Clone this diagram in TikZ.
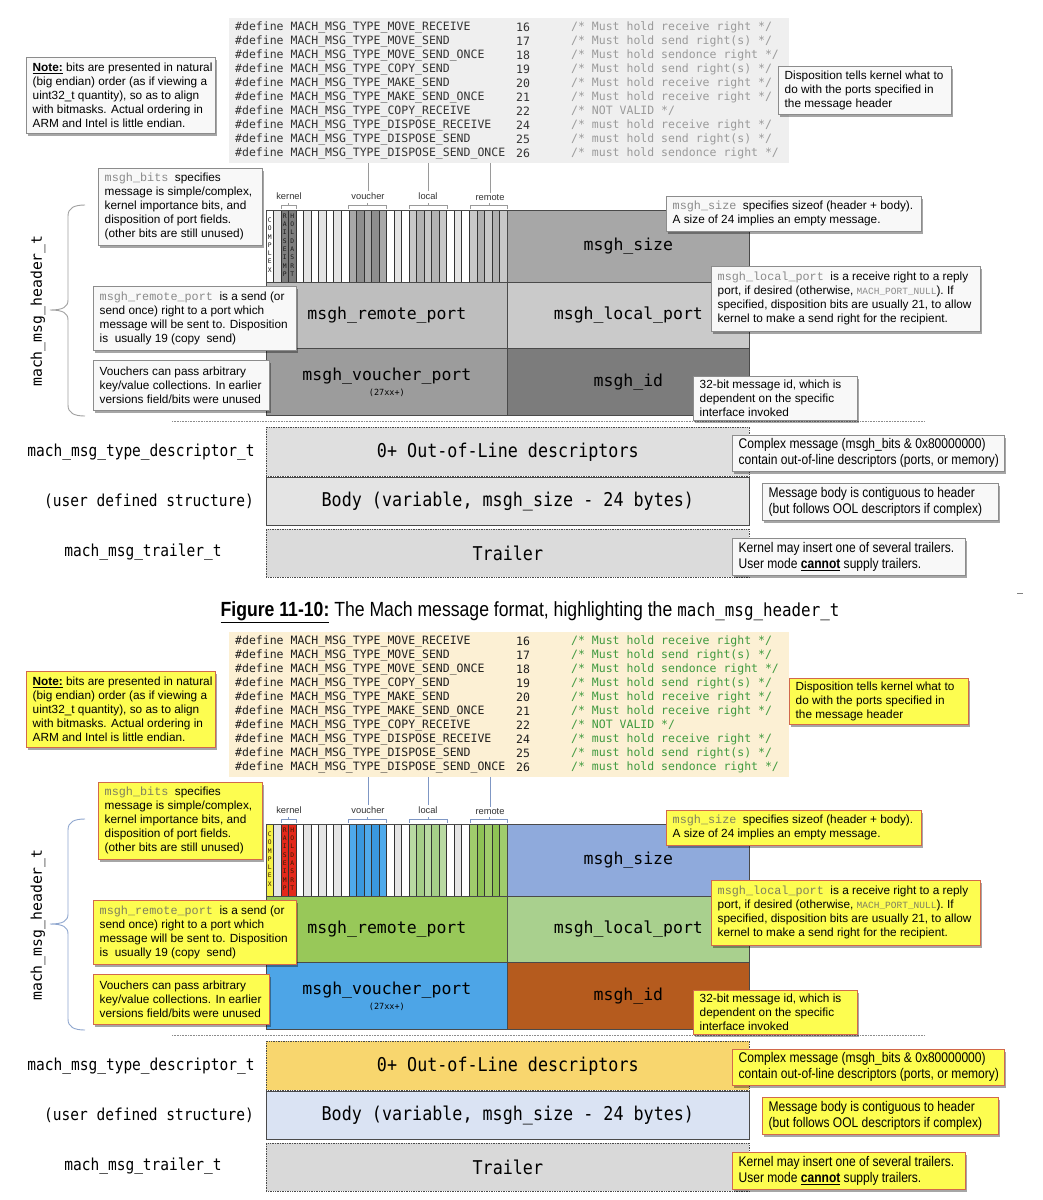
\documentclass[tikz,border=0pt]{standalone}
\usepackage{fontspec}
\setmainfont{Liberation Sans}
\newfontfamily\codefont{DejaVu Sans Mono}
\newfontfamily\condmono[FakeStretch=0.88]{DejaVu Sans Mono}
\newfontfamily\narrowsans[FakeStretch=0.86]{Liberation Sans}
\newfontfamily\courfont{Liberation Mono}
\usetikzlibrary{shadows}

\definecolor{FieldLine}{HTML}{4A4A4A}
\definecolor{BitLine}{HTML}{333333}
% gray theme
\definecolor{tCodeBg}{HTML}{EFEFEF}
\definecolor{tCodeTx}{HTML}{333333}
\definecolor{tComment}{HTML}{9A9A9A}
\definecolor{tCallFill}{HTML}{F8F8F8}
\definecolor{tCallLine}{HTML}{8C8C8C}
\definecolor{tInline}{HTML}{8A8A8A}
\definecolor{tBitA}{HTML}{FFFFFF}
\definecolor{tBitB}{HTML}{E4E4E4}
\definecolor{tComplex}{HTML}{FFFFFF}
\definecolor{tKernel}{HTML}{7E7E7E}
\definecolor{tVouchA}{HTML}{8E8E8E}
\definecolor{tVouchB}{HTML}{A8A8A8}
\definecolor{tLocalA}{HTML}{B2B2B2}
\definecolor{tLocalB}{HTML}{C8C8C8}
\definecolor{tRemoteA}{HTML}{B0B0B0}
\definecolor{tRemoteB}{HTML}{C8C8C8}
\definecolor{tSize}{HTML}{A7A7A7}
\definecolor{tRemote}{HTML}{BEBEBE}
\definecolor{tLocal}{HTML}{CACACA}
\definecolor{tVoucher}{HTML}{9C9C9C}
\definecolor{tId}{HTML}{7C7C7C}
\definecolor{tDesc}{HTML}{DFDFDF}
\definecolor{tBody}{HTML}{E4E4E4}
\definecolor{tTrailer}{HTML}{DBDBDB}
\definecolor{tBrace}{HTML}{A0A0A0}
\definecolor{tConn}{HTML}{9A9A9A}
\definecolor{tBitText}{HTML}{1A1A1A}
% colour theme
\definecolor{bCodeBg}{HTML}{FCF0D4}
\definecolor{bCodeTx}{HTML}{1E1E1E}
\definecolor{bComment}{HTML}{3F9A3F}
\definecolor{bCallFill}{HTML}{FDFD50}
\definecolor{bCallLine}{HTML}{D2694B}
\definecolor{bInline}{HTML}{7F7F5F}
\definecolor{bBitA}{HTML}{FFFFFF}
\definecolor{bBitB}{HTML}{E5E5E5}
\definecolor{bComplex}{HTML}{F6F246}
\definecolor{bKernel}{HTML}{E3291B}
\definecolor{bVouchA}{HTML}{3A98DE}
\definecolor{bVouchB}{HTML}{4FAAEB}
\definecolor{bLocalA}{HTML}{A5CE88}
\definecolor{bLocalB}{HTML}{B9DAA2}
\definecolor{bRemoteA}{HTML}{8EC255}
\definecolor{bRemoteB}{HTML}{A0CC6C}
\definecolor{bSize}{HTML}{8FAADC}
\definecolor{bRemote}{HTML}{98C859}
\definecolor{bLocal}{HTML}{A9D08E}
\definecolor{bVoucher}{HTML}{4DA5E7}
\definecolor{bId}{HTML}{B55B1E}
\definecolor{bDesc}{HTML}{F8D66E}
\definecolor{bBody}{HTML}{DAE3F3}
\definecolor{bTrailer}{HTML}{D9D9D9}
\definecolor{bBrace}{HTML}{8FA7CF}
\definecolor{bConn}{HTML}{7F97C4}
\definecolor{bBitText}{HTML}{3A1A00}

\tikzset{
  codeline/.style={anchor=west, inner sep=0, font={\codefont\fontsize{11.5}{14}\selectfont}},
  fieldbox/.style={draw=FieldLine, line width=0.8pt, inner sep=0, anchor=north west, text=black, font={\codefont\fontsize{16.5}{18}\selectfont}},
  rowbox/.style={draw=FieldLine, line width=0.7pt, inner sep=0, anchor=north west, minimum width=483, text=black, font={\condmono\fontsize{19}{22}\selectfont}},
  rowlabel/.style={inner sep=0, text=black, font={\condmono\fontsize{16.5}{18}\selectfont}},
  bitlabel/.style={inner sep=1pt, text=black!80, font={\fontsize{9.3}{10}\selectfont}},
  bitletters/.style={inner sep=0, align=center, font={\codefont\fontsize{6.3}{8.3}\selectfont}},
  calltext/.style={anchor=west, align=left, inner sep=0, text=black, font={\fontsize{11.8}{14}\selectfont}},
  narrowtext/.style={anchor=west, align=left, inner sep=0, text=black, font={\narrowsans\fontsize{14}{16}\selectfont}},
  tcallbox/.style={draw=tCallLine, fill=tCallFill, line width=0.6pt, inner sep=0, anchor=north west,
     drop shadow={shadow xshift=2pt, shadow yshift=-2.5pt, opacity=0.35, fill=black}},
  bcallbox/.style={draw=bCallLine, fill=bCallFill, line width=0.7pt, inner sep=0, anchor=north west,
     drop shadow={shadow xshift=2pt, shadow yshift=-2.5pt, opacity=0.35, fill=black}},
}

\newcommand\callout[8]{%
  \node[#2, minimum width=#5, minimum height=#6] (#1) at (#3,#4) {};
  \node[#7] (#1t) at ([xshift=6.5pt]#1.west) {#8};
}

\newcommand\machdiagram[1]{%
  % code block
  \node[fill=#1CodeBg, inner sep=0, anchor=north west, minimum width=560, minimum height=145] (#1code) at (229,18) {};
  \foreach \mn/\mv/\mc [count=\k from 0] in {%
    MOVE\_RECEIVE/16/Must hold receive right,%
    MOVE\_SEND/17/Must hold send right(s),%
    MOVE\_SEND\_ONCE/18/Must hold sendonce right,%
    COPY\_SEND/19/Must hold send right(s),%
    MAKE\_SEND/20/Must hold receive right,%
    MAKE\_SEND\_ONCE/21/Must hold receive right,%
    COPY\_RECEIVE/22/NOT VALID,%
    DISPOSE\_RECEIVE/24/must hold receive right,%
    DISPOSE\_SEND/25/must hold send right(s),%
    DISPOSE\_SEND\_ONCE/26/must hold sendonce right}{%
    \node[codeline, text=#1CodeTx] (#1def\k) at (235,{27+14*\k}) {\#define MACH\_MSG\_TYPE\_\mn};
    \node[codeline, text=#1CodeTx] (#1val\k) at (516,{27+14*\k}) {\mv};
    \node[codeline, text=#1Comment] (#1com\k) at (571,{27+14*\k}) {/* \mc{} */};
  }
  % bit field
  \foreach \i in {0,...,31}{%
    \ifodd\i\relax\def\bc{#1BitB}\else\def\bc{#1BitA}\fi
    \path[fill=\bc] ({266+7.53*\i},210) rectangle ({266+7.53*(\i+1)},282);
  }
  \path[fill=#1Complex] (266,210) rectangle ({266+7.53},282);
  \path[fill=#1Kernel] ({266+7.53*2},210) rectangle ({266+7.53*4},282);
  \foreach \i in {11,...,15}{%
    \ifodd\i\relax\def\bc{#1VouchB}\else\def\bc{#1VouchA}\fi
    \path[fill=\bc] ({266+7.53*\i},210) rectangle ({266+7.53*(\i+1)},282);
  }
  \foreach \i in {19,...,23}{%
    \ifodd\i\relax\def\bc{#1LocalB}\else\def\bc{#1LocalA}\fi
    \path[fill=\bc] ({266+7.53*\i},210) rectangle ({266+7.53*(\i+1)},282);
  }
  \foreach \i in {27,...,31}{%
    \ifodd\i\relax\def\bc{#1RemoteB}\else\def\bc{#1RemoteA}\fi
    \path[fill=\bc] ({266+7.53*\i},210) rectangle ({266+7.53*(\i+1)},282);
  }
  \foreach \i in {1,...,31}{%
    \draw[BitLine, line width=0.6pt] ({266+7.53*\i},210) -- ({266+7.53*\i},282);
  }
  \node[draw=FieldLine, line width=0.8pt, inner sep=0, anchor=north west, minimum width=241, minimum height=72] (#1bits) at (266,210) {};
  \node[bitletters, text=#1BitText] (#1bcomplex) at ({266+7.53*0.5},245) {C\\O\\M\\P\\L\\E\\X};
  \node[bitletters, text=#1BitText] (#1braise) at ({266+7.53*2.5},245) {R\\A\\I\\S\\E\\I\\M\\P};
  \node[bitletters, text=#1BitText] (#1bhold) at ({266+7.53*3.5},245) {H\\O\\L\\D\\A\\S\\R\\T};
  % bit group labels and brackets
  \node[bitlabel] (#1lkernel) at (289,196) {kernel};
  \node[bitlabel] (#1lvouch) at (368,196) {voucher};
  \node[bitlabel] (#1llocal) at (428,196) {local};
  \node[bitlabel] (#1lremote) at (490,197.5) {remote};
  \draw[#1Conn, line width=0.7pt] (281,209) -- (281,205.5) -- (296,205.5) -- (296,209);
  \draw[#1Conn, line width=0.7pt] (288.5,205.5) -- (288.5,202.5);
  \draw[#1Conn, line width=0.7pt] (348.5,209) -- (348.5,205.5) -- (386.5,205.5) -- (386.5,209);
  \draw[#1Conn, line width=0.7pt] (367.5,205.5) -- (367.5,202.5);
  \draw[#1Conn, line width=0.7pt] (409.5,209) -- (409.5,205.5) -- (447,205.5) -- (447,209);
  \draw[#1Conn, line width=0.7pt] (428,205.5) -- (428,202.5);
  \draw[#1Conn, line width=0.7pt] (470,209) -- (470,205.5) -- (507,205.5) -- (507,209);
  \draw[#1Conn, line width=0.7pt] (489,205.5) -- (489,202.5);
  \draw[#1Conn, line width=0.8pt] (#1lvouch.north |- #1code.south) -- (#1lvouch.north);
  \draw[#1Conn, line width=0.8pt] (#1llocal.north |- #1code.south) -- (#1llocal.north);
  \draw[#1Conn, line width=0.8pt] (#1lremote.north |- #1code.south) -- (#1lremote.north);
  % header fields
  \node[fieldbox, fill=#1Size, minimum width=242, minimum height=72] (#1size) at (507,210) {msgh\_size};
  \node[fieldbox, fill=#1Remote, minimum width=241, minimum height=66] (#1remote) at (266,282) {msgh\_remote\_port};
  \node[fieldbox, fill=#1Local, minimum width=242, minimum height=66] (#1local) at (507,282) {msgh\_local\_port};
  \node[fieldbox, fill=#1Voucher, minimum width=241, minimum height=67, align=center] (#1voucher) at (266,348) {msgh\_voucher\_port\\[-3pt]{\fontsize{8.5}{9}\selectfont (27xx+)}};
  \node[fieldbox, fill=#1Id, minimum width=242, minimum height=67] (#1id) at (507,348) {msgh\_id};
  % separator
  \draw[black!45, line width=0.6pt, densely dotted] (172,421.5) -- (925,421.5);
  % body rows
  \node[rowbox, densely dotted, fill=#1Desc, minimum height=49] (#1desc) at (266,427) {0+ Out-of-Line descriptors};
  \node[rowbox, fill=#1Body, minimum height=48] (#1body) at (266,477) {Body (variable, msgh\_size - 24 bytes)};
  \node[rowbox, densely dotted, fill=#1Trailer, minimum height=48] (#1trailer) at (266,529) {Trailer};
  \node[rowlabel] (#1ldesc) at (141,452) {mach\_msg\_type\_descriptor\_t};
  \node[rowlabel] (#1luser) at (149,501) {(user defined structure)};
  \node[rowlabel] (#1ltrailer) at (143,552) {mach\_msg\_trailer\_t};
  % brace and header label
  \draw[#1Brace, line width=0.9pt] (85,205) .. controls (74,205) and (68,208) .. (68,216) -- (68,300)
     .. controls (68,307) and (63,310) .. (50,310) .. controls (63,310) and (68,313) .. (68,320)
     -- (68,405) .. controls (68,413) and (74,416) .. (85,416);
  \node[rotate=90, inner sep=0, text=black, font={\codefont\fontsize{14.8}{16}\selectfont}] (#1hdr) at (38,311) {mach\_msg\_header\_t};
  % callouts
  \callout{#1note}{#1callbox}{26}{57}{189}{76}{calltext}{\textbf{\underline{Note:}} bits are presented in natural\\(big endian) order (as if viewing a\\uint32\_t quantity), so as to align\\with bitmasks. Actual ordering in\\ARM and Intel is little endian.}
  \callout{#1cbits}{#1callbox}{98}{168}{164}{77}{calltext}{{\courfont\color{#1Inline}msgh\_bits}~ specifies\\message is simple/complex,\\kernel importance bits, and\\disposition of port fields.\\(other bits are still unused)}
  \callout{#1cremote}{#1callbox}{93}{286}{203}{64}{calltext}{{\courfont\color{#1Inline}msgh\_remote\_port}~ is a send (or\\send once) right to a port which\\message will be sent to. Disposition\\is~ usually 19 (copy~ send)}
  \callout{#1cvoucher}{#1callbox}{93}{360}{176}{50}{calltext}{Vouchers can pass arbitrary\\key/value collections. In earlier\\versions field/bits were unused}
  \callout{#1csize}{#1callbox}{666}{196}{255}{35}{calltext}{{\courfont\color{#1Inline}msgh\_size}~ specifies sizeof (header + body).\\A size of 24 implies an empty message.}
  \callout{#1clocal}{#1callbox}{711}{266}{269}{65}{calltext}{{\courfont\color{#1Inline}msgh\_local\_port}~ is a receive right to a reply\\port, if desired (otherwise, {\courfont\fontsize{9.5}{14}\selectfont\color{#1Inline}MACH\_PORT\_NULL}). If\\specified, disposition bits are usually 21, to allow\\kernel to make a send right for the recipient.}
  \callout{#1cid}{#1callbox}{693}{376}{164}{44}{calltext}{32-bit message id, which is\\dependent on the specific\\interface invoked}
  \callout{#1ccomplex}{#1callbox}{732}{435}{272}{36}{narrowtext}{Complex message (msgh\_bits \& 0x80000000)\\contain out-of-line descriptors (ports, or memory)}
  \callout{#1cbody}{#1callbox}{762}{483}{236}{37}{narrowtext}{Message body is contiguous to header\\(but follows OOL descriptors if complex)}
  \callout{#1ckernel}{#1callbox}{732}{538}{233}{37}{narrowtext}{Kernel may insert one of several trailers.\\User mode \textbf{\underline{cannot}} supply trailers.}
}

\begin{document}
\begin{tikzpicture}[x=1pt,y=-1pt]
\useasboundingbox (0,0) rectangle (1042,1200);
\fill[white] (0,0) rectangle (1042,1200);
\begin{scope}
  \machdiagram{t}
  \callout{tdisp}{tcallbox}{778}{66}{173}{48}{calltext}{Disposition tells kernel what to\\do with the ports specified in\\the message header}
\end{scope}
\node[inner sep=0, text=black, font={\narrowsans\fontsize{20.5}{22}\selectfont}] (caption) at (530,612)
  {\textbf{\underline{Figure 11-10:}} The Mach message format, highlighting the {\condmono\fontsize{18}{20}\selectfont mach\_msg\_header\_t}};
\draw[black!50, line width=1pt] (1017,593) -- (1023,593);
\begin{scope}[shift={(0,614)}]
  \machdiagram{b}
  \callout{bdisp}{bcallbox}{789}{64}{179}{46}{calltext}{Disposition tells kernel what to\\do with the ports specified in\\the message header}
\end{scope}
\end{tikzpicture}
\end{document}
